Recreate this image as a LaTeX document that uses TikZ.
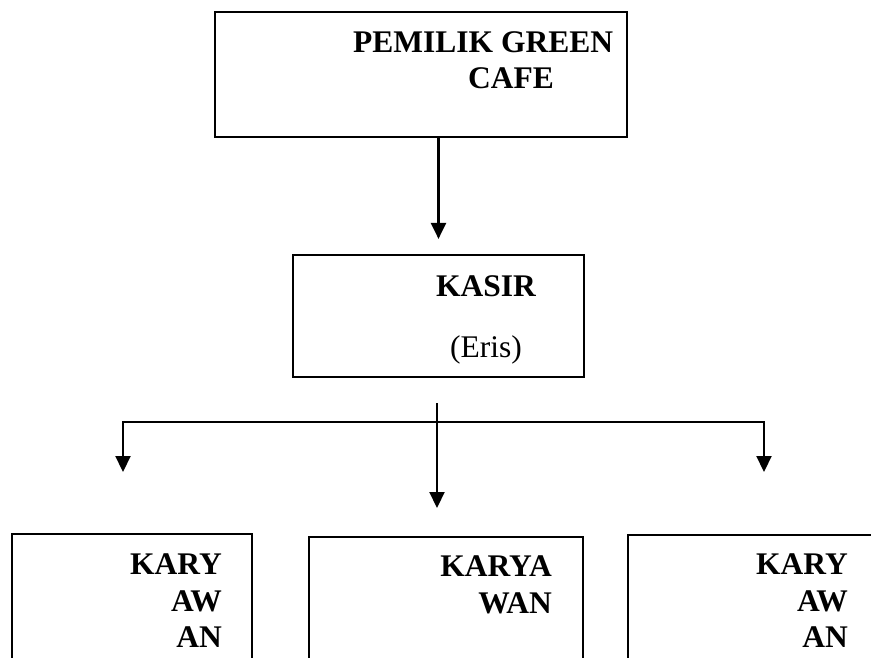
\documentclass[tikz,border=0pt]{standalone}
\usepackage{fontspec}
\setmainfont{Liberation Serif}
\usetikzlibrary{arrows.meta,positioning}

\begin{document}
\begin{tikzpicture}[
  x=1pt, y=-1pt,
  kotak/.style={draw, rectangle, line width=2.2pt, inner sep=0pt},
  teks/.style={font=\fontsize{31.5}{36.5}\selectfont\bfseries, inner sep=0pt},
  arr/.style={-{Triangle[length=16pt, width=15pt]}, line width=2.2pt}
]
\useasboundingbox (0,0) rectangle (871,658);
\clip (0,0) rectangle (871,658);
\node[kotak, minimum width=412pt, minimum height=125pt] (pemilik) at (421,74.5) {};
\node[kotak, minimum width=291pt, minimum height=122pt] (kasir) at (438.5,316) {};
\node[kotak, minimum width=240pt, minimum height=170pt] (karyawanKiri) at (132,619) {};
\node[kotak, minimum width=274pt, minimum height=170pt] (karyawanTengah) at (446,622) {};
\node[kotak, minimum width=272pt, minimum height=170pt] (karyawanKanan) at (764,620) {};
\node[teks, align=left, anchor=north west] (tPemilik) at (353,31) {PEMILIK GREEN\\\hspace*{115pt}CAFE};
\node[teks, align=center, anchor=north] (tKasir) at (486,275) {KASIR\\[24.5pt]\mdseries (Eris)};
\node[teks, align=right, anchor=north east] (tKiri) at (222,554) {KARY\\AW\\AN};
\node[teks, align=right, anchor=north east] (tTengah) at (552,556) {KARYA\\WAN};
\node[teks, align=right, anchor=north east] (tKanan) at (848,554) {KARY\\AW\\AN};
\coordinate (awal) at (437,403);
\coordinate (cabang) at (437,422);
\coordinate (tipKiri) at (123,472);
\coordinate (tipTengah) at (437,508);
\coordinate (tipKanan) at (764,472);
\draw[arr, shorten >=15pt] (kasir.north |- pemilik.south) -- (kasir.north);
\draw[arr] (awal) -- (tipTengah);
\draw[arr] (cabang) -| (tipKiri);
\draw[arr] (cabang) -| (tipKanan);
\end{tikzpicture}
\end{document}
